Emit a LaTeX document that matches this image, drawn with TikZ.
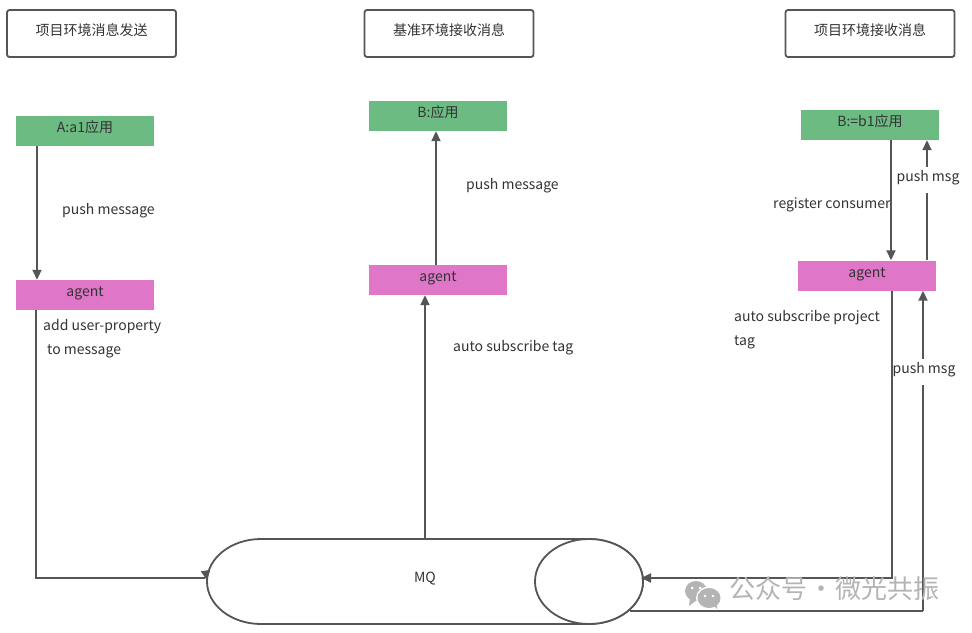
\documentclass[tikz,border=0pt]{standalone}
\usepackage{fontspec}
\setmainfont{Noto Sans}
\newfontfamily\cjk{Noto Sans CJK SC}
\usetikzlibrary{arrows.meta}
\definecolor{edge}{HTML}{555555}
\definecolor{ink}{HTML}{333333}
\definecolor{appgreen}{HTML}{6CBB82}
\definecolor{agentpink}{HTML}{E076C8}
\definecolor{wm}{HTML}{B4B4B4}
\tikzset{
  x=1pt,y=-1pt,
  every node/.style={text=ink,font=\fontsize{14}{16}\selectfont\cjk,inner sep=0pt,text height=7pt,text depth=4pt},
  titlebox/.style={draw=edge,line width=1.8pt,rounded corners=2.5pt,minimum width=169pt,minimum height=47pt},
  appbox/.style={fill=appgreen,minimum width=138pt,minimum height=30pt},
  agentbox/.style={fill=agentpink,minimum width=138pt,minimum height=30pt},
  lbl/.style={anchor=west},
  cutlbl/.style={fill=white,inner xsep=1pt,minimum height=26pt,xshift=1pt},
  conn/.style={draw=edge,line width=1.8pt,-{Triangle[length=10pt,width=9pt,fill=edge]}},
  tube/.style={draw=edge,line width=1.8pt,fill=white},
}
\begin{document}
\begin{tikzpicture}
\useasboundingbox (0,0) rectangle (972,632);
\node[titlebox] (t1) at (91.5,33.5) {项目环境消息发送};
\node[titlebox] (t2) at (449,33.5) {基准环境接收消息};
\node[titlebox] (t3) at (870,33.5) {项目环境接收消息};

\node[appbox] (a) at (85,131) {A:a1应用};
\node[appbox] (b) at (438,116) {B:应用};
\node[appbox] (c) at (870,125) {B:=b1应用};
\node[agentbox] (aa) at (85,295) {agent};
\node[agentbox] (ab) at (438,280) {agent};
\node[agentbox] (ac) at (867,275.5) {agent};

% MQ tube
\draw[tube] (261,539) -- (589,539) arc[start angle=-90,end angle=90,x radius=54,y radius=42.5] -- (261,624) arc[start angle=90,end angle=270,x radius=54,y radius=42.5] -- cycle;
\draw[tube] (589,581.5) ellipse[x radius=54,y radius=42.5];
\node (mq) at (425,581) {MQ};
\coordinate (mqw) at (205,578);
\coordinate (mqwa) at (205.6,571);
\coordinate (mqwb) at (207,580.5);
\coordinate (mqe) at (641,578);
\coordinate (mqt) at (425,539);
\coordinate (mqb) at (630,611);
\coordinate (mqc) at (923,611);

% connectors
\draw[conn] (a.south -| 37,0) -- (aa.north -| 37,0);
\draw[conn] (ab.north -| 436,0) -- (b.south -| 436,0);
\draw[conn] (ac.north -| 927,0) -- node[cutlbl,pos=0.672] {push msg} (c.south -| 927,0);
\draw[conn] (c.south -| 891,0) -- (ac.north -| 891,0);
\draw[edge,line width=1.8pt] (aa.south -| 36,0) |- (mqw);
\draw[conn] (mqwa) -- (mqwb);
\draw[conn] (mqt) -- (ab.south -| 425,0);
\draw[edge,line width=1.8pt] (mqb) -- (mqc);
\draw[conn] (mqc) -- node[cutlbl,pos=0.747] {push msg} (ac.south -| 923,0);
\draw[conn] (ac.south -| 892,0) |- (mqe);

% labels
\node[lbl] (l1) at (62,213) {push message};
\node[lbl] (l2) at (43,329) {add user-property};
\node[lbl] (l3) at (47,353) {to message};
\node[lbl] (l4) at (466,188) {push message};
\node[lbl] (l5) at (453,350) {auto subscribe tag};
\node[lbl] (l6) at (773,207) {register consumer};
\node[lbl] (l7) at (734,320) {auto subscribe project};
\node[lbl] (l8) at (734,344) {tag};

% watermark
\fill[wm] (696,591) ellipse[x radius=11,y radius=10];
\fill[wm] (690,598) -- (689,606) -- (697,600) -- cycle;
\fill[white] (709,598) ellipse[x radius=13,y radius=11.5];
\fill[wm] (709,598) ellipse[x radius=11.5,y radius=10];
\fill[wm] (713,605) -- (717,609) -- (717,603) -- cycle;
\fill[white] (692,588) circle[radius=1.5] (700,588) circle[radius=1.5] (705,596) circle[radius=1.3] (713,596) circle[radius=1.3];
\node[anchor=west,text=wm,font=\fontsize{26}{28}\selectfont\cjk,text height=16pt,text depth=5pt] (wmt) at (729,593) {公众号\kern1pt·\kern1pt微光共振};
\end{tikzpicture}
\end{document}
